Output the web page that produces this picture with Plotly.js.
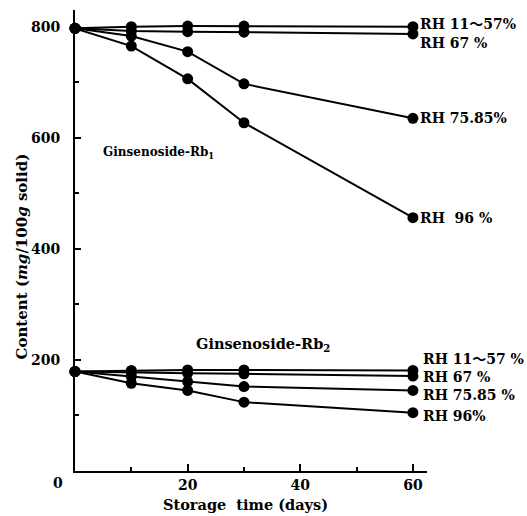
<!DOCTYPE html>
<html>
<head>
<meta charset="utf-8">
<script src="https://cdn.plot.ly/plotly-3.0.1.min.js"></script>
<style>html,body{margin:0;padding:0;background:#fff;}#chart{width:527px;height:516px;}</style>
</head>
<body>
<div id="chart"></div>
<script>
// Storage time (days)
const days = [0, 10, 20, 30, 60];

// Ginsenoside-Rb1 content (mg/100g solid)
const rb1_rh11_57 = [797, 800, 801, 801, 800];
const rb1_rh67    = [797, 792, 791, 790, 787];
const rb1_rh75_85 = [797, 783, 755, 697, 635];
const rb1_rh96    = [797, 765, 706, 627, 456];

// Ginsenoside-Rb2 content (mg/100g solid)
const rb2_rh11_57 = [179, 181, 182, 182, 181];
const rb2_rh67    = [179, 177, 176, 175, 171];
const rb2_rh75_85 = [179, 170, 161, 152, 145];
const rb2_rh96    = [179, 158, 145, 124, 105];

// End-of-line labels and their label heights
const rb1Labels = ["RH 11～57%", "RH 67 %", "RH 75.85%", "RH  96 %"];
const rb1LabelY = [805, 771, 636, 456];
const rb2Labels = ["RH 11～57 %", "RH 67 %", "RH 75.85 %", "RH 96%"];
const rb2LabelY = [202, 169, 137, 99];

// Axis ticks
const xTicks = [0, 20, 40, 60];
const xTickText = ["", "20", "40", "60"];
const xMinor = [10, 30, 50];
const yTicks = [200, 400, 600, 800];
const yMinor = [100, 300, 500, 700];

const FONT = "'DejaVu Serif', 'Liberation Serif', 'Noto Sans CJK SC', serif";

const series = [rb1_rh11_57, rb1_rh67, rb1_rh75_85, rb1_rh96,
                rb2_rh11_57, rb2_rh67, rb2_rh75_85, rb2_rh96];

const traces = series.map(s => ({
  x: days, y: s, type: 'scatter', mode: 'lines+markers',
  line: {color: '#000', width: 2},
  marker: {color: '#000', size: 11, symbol: 'circle'},
  showlegend: false, hoverinfo: 'skip', cliponaxis: false
}));

const annotations = [];
rb1Labels.forEach((t, i) => annotations.push({
  xref: 'x', yref: 'y', x: 60, y: rb1LabelY[i], xanchor: 'left', yanchor: 'middle',
  xshift: 5, text: t, showarrow: false,
  font: {family: FONT, size: 14, color: '#000', weight: 'bold'}
}));
rb2Labels.forEach((t, i) => annotations.push({
  xref: 'x', yref: 'y', x: 60, y: rb2LabelY[i], xanchor: 'left', yanchor: 'middle',
  xshift: 8, text: t, showarrow: false,
  font: {family: FONT, size: 14, color: '#000', weight: 'bold'}
}));
annotations.push({
  xref: 'x', yref: 'y', x: 4.6, y: 572, xanchor: 'left', yanchor: 'middle',
  text: 'Ginsenoside-Rb<sub>1</sub>', showarrow: false,
  font: {family: FONT, size: 12, color: '#000', weight: 'bold'}
});
annotations.push({
  xref: 'x', yref: 'y', x: 21.2, y: 227, xanchor: 'left', yanchor: 'middle',
  text: 'Ginsenoside-Rb<sub>2</sub>', showarrow: false,
  font: {family: FONT, size: 14.5, color: '#000', weight: 'bold'}
});
annotations.push({
  xref: 'paper', yref: 'paper', x: -0.048, y: -0.026, xanchor: 'center', yanchor: 'middle',
  text: '0', showarrow: false,
  font: {family: FONT, size: 14, color: '#000', weight: 'bold'}
});
// Axis titles
annotations.push({
  xref: 'paper', yref: 'paper', x: 0.483, y: -0.072, xanchor: 'center', yanchor: 'middle',
  text: 'Storage  time (days)', showarrow: false,
  font: {family: FONT, size: 14.5, color: '#000', weight: 'bold'}
});
annotations.push({
  xref: 'paper', yref: 'paper', x: -0.151, y: 0.465, xanchor: 'center', yanchor: 'middle',
  text: 'Content (<i>mg</i>/100<i>g</i> solid)', showarrow: false, textangle: -90,
  font: {family: FONT, size: 15, color: '#000', weight: 'bold'}
});

const layout = {
  width: 527, height: 516,
  margin: {l: 75, r: 100, t: 10, b: 45, pad: 0},
  paper_bgcolor: '#fff', plot_bgcolor: '#fff',
  font: {family: FONT, color: '#000'},
  xaxis: {
    range: [0, 62.5], showgrid: false, zeroline: false,
    showline: true, linecolor: '#000', linewidth: 2,
    ticks: 'inside', ticklen: 7, tickwidth: 2, tickcolor: '#000',
    tickmode: 'array', tickvals: xTicks, ticktext: xTickText,
    minor: {tickmode: 'array', tickvals: xMinor, ticks: 'inside', ticklen: 4, tickwidth: 2, tickcolor: '#000'},
    tickfont: {family: FONT, size: 14, weight: 'bold'}
  },
  yaxis: {
    range: [0, 830], showgrid: false, zeroline: false,
    showline: true, linecolor: '#000', linewidth: 2,
    ticks: 'inside', ticklen: 6, tickwidth: 2, tickcolor: '#000',
    tickmode: 'array', tickvals: yTicks,
    minor: {tickmode: 'array', tickvals: yMinor, ticks: 'inside', ticklen: 4, tickwidth: 2, tickcolor: '#000'},
    ticklabelstandoff: 10,
    tickfont: {family: FONT, size: 14, weight: 'bold'}
  },
  annotations: annotations
};

Plotly.newPlot('chart', traces, layout, {displayModeBar: false, staticPlot: true});
</script>
</body>
</html>
